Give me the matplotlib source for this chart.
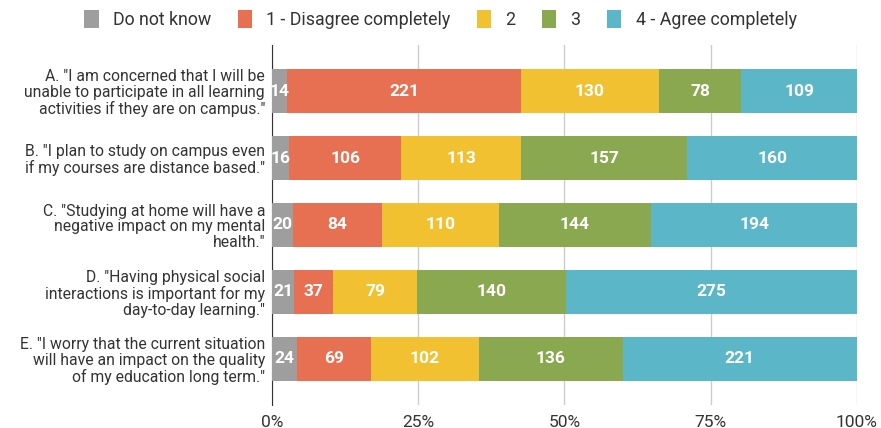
import numpy as np
import matplotlib.pyplot as plt

plt.rcParams['font.family'] = ['Roboto', 'DejaVu Sans']

questions = ['A. "I am concerned that I will be\nunable to participate in all learning\nactivities if they are on campus."',
             'B. "I plan to study on campus even\nif my courses are distance based."',
             'C. "Studying at home will have a\nnegative impact on my mental\nhealth."',
             'D. "Having physical social\ninteractions is important for my\nday-to-day learning."',
             'E. "I worry that the current situation\nwill have an impact on the quality\nof my education long term."']
answers = ['Do not know', '1 - Disagree completely', '2', '3', '4 - Agree completely']
dont_know = [14, 16, 20, 21, 24]
disagree = [221, 106, 84, 37, 69]
two = [130, 113, 110, 79, 102]
three = [78, 157, 144, 140, 136]
agree = [109, 160, 194, 275, 221]
colors = ['#9e9e9e', '#e87052', '#f2c132', '#8aa84f', '#5bb6c7']

counts = np.array([dont_know, disagree, two, three, agree], dtype=float)
totals = counts.sum(axis=0)
shares = counts / totals * 100

fig = plt.figure(figsize=(8.81, 4.28), dpi=100)
ax = fig.add_axes([0.3087, 0.0537, 0.664, 0.8413])

y = np.arange(len(questions))
left = np.zeros(len(questions))
for i in range(len(answers)):
    ax.barh(y, shares[i], left=left, height=0.65, color=colors[i], label=answers[i], zorder=3)
    for j in range(len(questions)):
        ax.text(left[j] + shares[i][j] / 2, y[j], str(int(counts[i][j])), ha='center', va='center',
                color='white', fontweight='bold', fontsize=12.5, zorder=4)
    left += shares[i]

ax.set_xlim(0, 100)
ax.set_ylim(4.69, -0.69)
ax.set_yticks(y)
ax.set_yticklabels(questions, fontsize=11.3, color='#333333', linespacing=1.07)
ax.set_xticks([0, 25, 50, 75, 100])
ax.set_xticklabels(['0%', '25%', '50%', '75%', '100%'], fontsize=12.5, color='#333333')
ax.tick_params(axis='y', length=0, pad=5)
ax.tick_params(axis='x', length=0, pad=7)
ax.grid(axis='x', color='#cccccc', linewidth=1, zorder=0)
for s in ['top', 'right', 'bottom']:
    ax.spines[s].set_visible(False)
ax.spines['left'].set_color('#333333')

fig.legend(loc='upper center', bbox_to_anchor=(0.5, 1.015), ncol=5, frameon=False, fontsize=12.8,
           handlelength=0.8, handleheight=1.2, handletextpad=0.8, columnspacing=1.5, labelcolor='#333333')

plt.savefig('out.png', dpi=100)
